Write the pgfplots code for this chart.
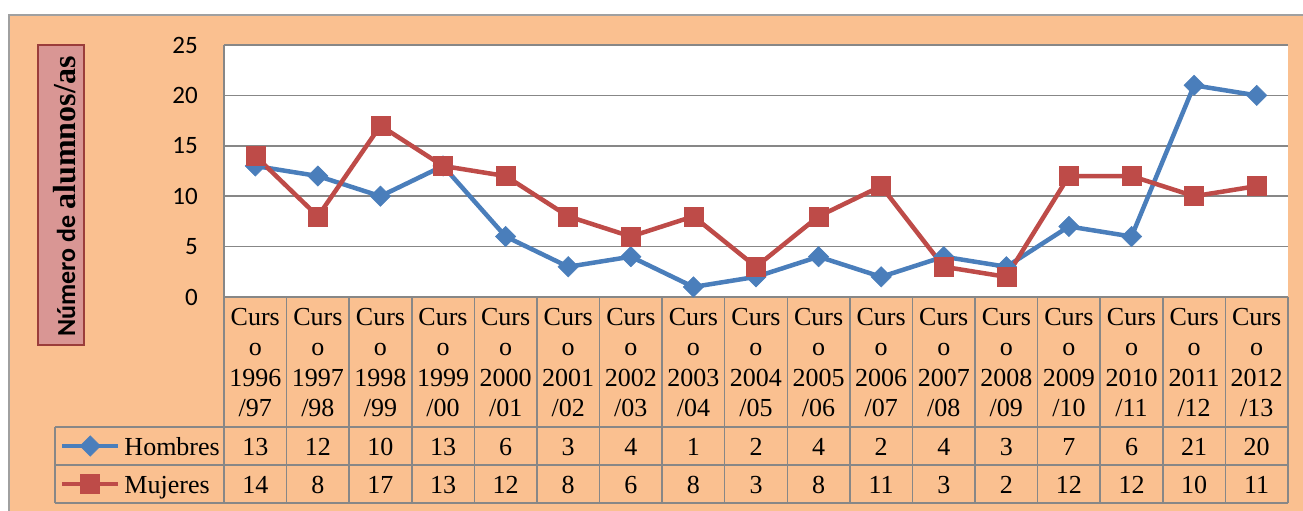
\documentclass[border=0pt]{standalone}
\usepackage{pgfplots}
\usepackage{pgfplotstable}
\pgfplotsset{compat=1.18}
\usepackage{fontspec}
\setmainfont{Liberation Serif}
\newfontfamily\calibri{Carlito}
\definecolor{peach}{HTML}{FAC090}
\definecolor{hblue}{HTML}{4A7EBB}
\definecolor{mred}{HTML}{BE4B48}
\definecolor{gridgray}{HTML}{878787}
\definecolor{boxfill}{HTML}{D99694}
\definecolor{boxdraw}{HTML}{9B3D3B}
\definecolor{frame}{HTML}{A0A0A0}

\pgfplotstableread{
x h m
0 13 14
1 12 8
2 10 17
3 13 13
4 6 12
5 3 8
6 4 6
7 1 8
8 2 3
9 4 8
10 2 11
11 4 3
12 3 2
13 7 12
14 6 12
15 21 10
16 20 11
}\datatable

\begin{document}
\begin{tikzpicture}
\useasboundingbox (0pt,0pt) rectangle (1303pt,-511pt);
\fill[white] (0pt,0pt) rectangle (1303pt,-511pt);
\fill[peach] (9pt,-15pt) rectangle (1303pt,-511pt);
\draw[frame, line width=2pt] (9pt,-511pt) -- (9pt,-15pt) -- (1303pt,-15pt);

\begin{axis}[
  at={(224pt,-297pt)}, anchor=south west,
  scale only axis, width=1064pt, height=252pt,
  xmin=-0.5, xmax=16.5, ymin=0, ymax=25,
  axis background/.style={fill=white},
  axis x line*=bottom, axis y line*=left,
  axis line style={gridgray, line width=1.5pt, -},
  ytick={0,5,...,25},
  ymajorgrids, grid style={gridgray, line width=1.5pt},
  major tick length=0pt,
  /pgf/number format/assume math mode=true,
  yticklabel style={font=\calibri\fontsize{25}{30}\selectfont, anchor=east, inner sep=0pt, xshift=-26pt},
  xtick={0,...,16},
  xticklabels={{Curs\\o\\1996\\/97},{Curs\\o\\1997\\/98},{Curs\\o\\1998\\/99},{Curs\\o\\1999\\/00},{Curs\\o\\2000\\/01},{Curs\\o\\2001\\/02},{Curs\\o\\2002\\/03},{Curs\\o\\2003\\/04},{Curs\\o\\2004\\/05},{Curs\\o\\2005\\/06},{Curs\\o\\2006\\/07},{Curs\\o\\2007\\/08},{Curs\\o\\2008\\/09},{Curs\\o\\2009\\/10},{Curs\\o\\2010\\/11},{Curs\\o\\2011\\/12},{Curs\\o\\2012\\/13}},
  xticklabel style={font=\fontsize{26}{30.5}\selectfont, align=center, anchor=north, inner sep=0pt, yshift=-11pt},
  clip=false,
  legend style={at={(-0.15414,-0.51587)}, anchor=north west, draw=none, fill=none,
    inner sep=0pt, outer sep=0pt, row sep=0pt, column sep=4pt,
    font=\fontsize{26}{30.5}\selectfont,
    nodes={inner sep=0pt, text height=28pt, text depth=10pt}},
  legend cell align=left,
  legend image code/.code={\draw[mark repeat=2,mark phase=2,#1] plot coordinates {(0pt,0pt) (28pt,0pt) (56pt,0pt)};},
]
\addplot[hblue, line width=4.5pt, mark=square*, mark size=7.2pt,
  mark options={rotate=45, line width=0.5pt, fill=hblue, draw=hblue}] table[x=x, y=h] {\datatable};
\addlegendentry{Hombres}
\addplot[mred, line width=4.5pt, mark=square*, mark size=9.5pt,
  mark options={line width=0.5pt, fill=mred, draw=mred}] table[x=x, y=m] {\datatable};
\addlegendentry{Mujeres}
\end{axis}

% data table grid
\foreach \k in {0,...,17} {
  \draw[gridgray, line width=1.5pt] ({(224+62.588*\k)*1pt}, -297pt) -- ({(224+62.588*\k)*1pt}, -503pt);
}
\foreach \yy in {427,465,503} {
  \draw[gridgray, line width=1.5pt] (55pt, -\yy pt) -- (1288pt, -\yy pt);
}
\draw[gridgray, line width=1.5pt] (55pt,-427pt) -- (55pt,-503pt);

% data table values
\foreach \i in {0,...,16} {
  \pgfplotstablegetelem{\i}{h}\of\datatable
  \node[anchor=base, inner sep=0pt, font=\fontsize{26}{30.5}\selectfont] at ({(224+62.588*(\i+0.5))*1pt}, -455pt) {\pgfplotsretval};
  \pgfplotstablegetelem{\i}{m}\of\datatable
  \node[anchor=base, inner sep=0pt, font=\fontsize{26}{30.5}\selectfont] at ({(224+62.588*(\i+0.5))*1pt}, -493pt) {\pgfplotsretval};
}

% y label box
\draw[boxdraw, fill=boxfill, line width=1.5pt] (38pt,-45pt) rectangle (84pt,-345pt);
\node[rotate=90, anchor=base, inner sep=0pt] at (75pt,-196.5pt) {{\calibri\bfseries\fontsize{26}{30}\selectfont Número de }{\bfseries\fontsize{32}{36}\selectfont alumnos/as}};
\end{tikzpicture}
\end{document}
